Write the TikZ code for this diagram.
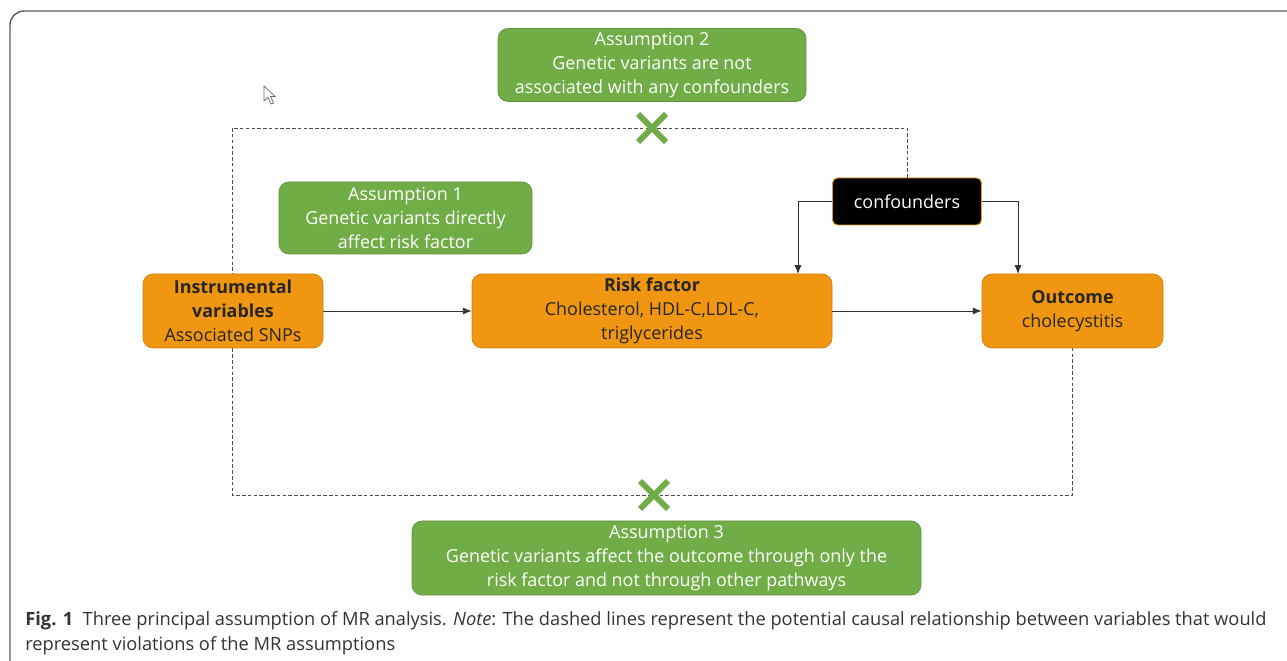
\documentclass[tikz,border=0pt]{standalone}
\usepackage{fontspec}
\setmainfont{Open Sans}
\newfontfamily\capfont{Open Sans}
\usetikzlibrary{arrows.meta,backgrounds}

\definecolor{boxorange}{RGB}{240,150,17}
\definecolor{boxgreen}{RGB}{112,173,71}
\definecolor{framegray}{RGB}{90,90,90}

\tikzset{
  orangebox/.style={draw=boxorange!85!black, line width=0.4pt, fill=boxorange, rounded corners=0.2cm,
    align=center, text=black!85, font=\fontsize{10.2}{13.6}\selectfont, inner sep=0pt},
  greenbox/.style={draw=boxgreen!85!black, line width=0.4pt, fill=boxgreen, rounded corners=0.2cm,
    align=center, text=white, font=\fontsize{10.2}{13.6}\selectfont, inner sep=0pt},
  darkbox/.style={draw=boxorange, line width=0.5pt, fill=black, rounded corners=0.1cm,
    text=white, font=\fontsize{10.2}{13.6}\selectfont, inner sep=0pt},
  arr/.style={-{Latex[length=5pt,width=4pt]}, black!80, line width=0.5pt},
  dashline/.style={black!70, line width=0.5pt, dash pattern=on 2pt off 1.3pt},
  xmark/.style={boxgreen, line width=3.4pt}
}

\begin{document}
\begin{tikzpicture}[x=0.02cm, y=-0.02cm] %MR assumptions
    \useasboundingbox (0,0) rectangle (1287,661);

    % outer frame, open at right and bottom
    \draw[framegray, line width=0.8pt, rounded corners=0.28cm] (1287,11) -- (10,11) -- (10,661);

    % cursor
    \filldraw[fill=white, draw=black!60, line width=0.4pt] (264,86) -- (264,101) -- (268,97.5) -- (271,104) -- (273.5,103) -- (270.5,96.5) -- (275,96.5) -- cycle;

    \node[greenbox, minimum width=308*0.02cm, minimum height=73*0.02cm] (as2) at (652,65)
        {Assumption 2\\Genetic variants are not\\associated with any confounders};
    \node[greenbox, minimum width=253*0.02cm, minimum height=72*0.02cm] (as1) at (405.5,218)
        {Assumption 1\\Genetic variants directly\\affect risk factor};
    \node[greenbox, minimum width=509*0.02cm, minimum height=74*0.02cm] (as3) at (666.5,558)
        {Assumption 3\\Genetic variants affect the outcome through only the\\risk factor and not through other pathways};

    \node[orangebox, minimum width=180*0.02cm, minimum height=74*0.02cm] (inst) at (233,311)
        {\textbf{Instrumental}\\\textbf{variables}\\Associated SNPs};
    \node[orangebox, minimum width=360*0.02cm, minimum height=74*0.02cm] (risk) at (652,311)
        {\textbf{Risk factor}\\Cholesterol, HDL-C,LDL-C,\\triglycerides};
    \node[orangebox, minimum width=181*0.02cm, minimum height=74*0.02cm] (outc) at (1072.5,311)
        {\textbf{Outcome}\\cholecystitis};
    \node[darkbox, minimum width=149*0.02cm, minimum height=47*0.02cm] (conf) at (907,201.5)
        {confounders};

    \coordinate (tl) at (232,128);
    \coordinate (bl) at (232,495);
    \coordinate (rtop) at (798,274);
    \coordinate (otop) at (1018,274);

    \begin{scope}[on background layer]
        \draw[dashline] (conf.north) |- (tl) -- (bl) -| (outc.south);
    \end{scope}

    \draw[arr] (inst) -- (risk);
    \draw[arr] (risk) -- (outc);
    \draw[arr] (conf.west) -| (rtop);
    \draw[arr] (conf.east) -| (otop);

    % crosses
    \draw[xmark] (638,114) -- (666,142) (638,142) -- (666,114);
    \draw[xmark] (640,481) -- (668,509) (640,509) -- (668,481);

    \node[anchor=north west, align=left, inner sep=0pt, text=black!80,
        font=\capfont\fontsize{10.4}{14.2}\selectfont] (cap) at (25,611)
        {\textbf{Fig. 1}\ \ Three principal assumption of MR analysis. \textit{Note}: The dashed lines represent the potential causal relationship between variables that would\\represent violations of the MR assumptions};
\end{tikzpicture}
\end{document}
